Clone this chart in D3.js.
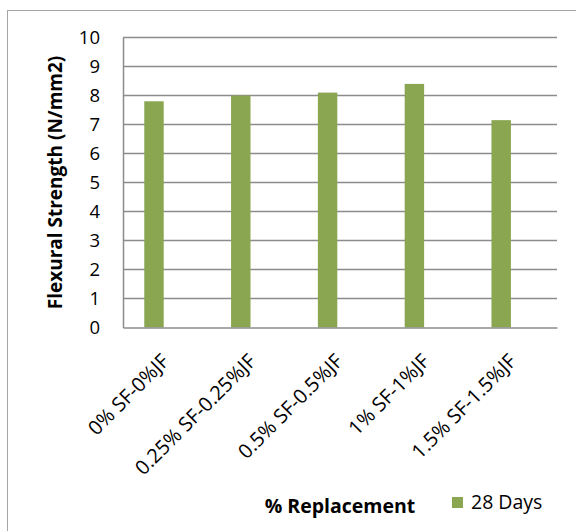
<!DOCTYPE html>
<html>
<head>
<meta charset="utf-8">
<script src="https://cdn.jsdelivr.net/npm/d3@7"></script>
<style>
  body { margin: 0; background: #fff; }
  svg { display: block; }
  text { font-family: "Open Sans", sans-serif; fill: #000; }
</style>
</head>
<body>
<div id="chart"></div>
<script>
// values
var categories = ["0% SF-0%JF", "0.25% SF-0.25%JF", "0.5% SF-0.5%JF", "1% SF-1%JF", "1.5% SF-1.5%JF"];
var days28 = [7.8, 8.0, 8.1, 8.4, 7.15];
var yTicks = [0, 1, 2, 3, 4, 5, 6, 7, 8, 9, 10];
var seriesName = "28 Days";

var width = 576, height = 531;
// note: "top" is taken by window.top, so plot edges get their own names
var plotLeft = 123, plotRight = 557, plotTop = 37.5, plotBottom = 327.5;
var green = "#8ba650";
var grid = "#8c8c8c";

var svg = d3.select("#chart").append("svg")
    .attr("width", width)
    .attr("height", height);

// chart frame (runs off the page on the right and bottom)
svg.append("rect")
    .attr("x", 7.5).attr("y", 10.5)
    .attr("width", 600).attr("height", 600)
    .attr("fill", "none")
    .attr("stroke", "#a6a6a6");

var x = d3.scaleBand().domain(categories).range([plotLeft, plotRight]);
var y = d3.scaleLinear().domain([0, 10]).range([plotBottom, plotTop]);

// gridlines
svg.append("g")
    .selectAll("line")
    .data(yTicks.filter(function(d){ return d > 0; }))
    .enter().append("line")
    .attr("x1", plotLeft).attr("x2", plotRight)
    .attr("y1", function(d){ return y(d); })
    .attr("y2", function(d){ return y(d); })
    .attr("stroke", grid)
    .attr("stroke-width", 1.5);

// bars
svg.append("g")
    .selectAll("rect")
    .data(days28)
    .enter().append("rect")
    .attr("x", function(d, i){ return x(categories[i]) + x.bandwidth() * 0.245; })
    .attr("width", x.bandwidth() * 0.224)
    .attr("y", function(d){ return y(d); })
    .attr("height", function(d){ return y(0) - y(d); })
    .attr("fill", green);

// y axis
var yAxis = svg.append("g")
    .attr("transform", "translate(" + plotLeft + ",0)")
    .call(d3.axisLeft(y).tickValues(yTicks).tickSize(0).tickPadding(23));
yAxis.select(".domain").attr("stroke", grid).attr("stroke-width", 1.5);
yAxis.selectAll("text")
    .style("font-family", "Open Sans")
    .style("font-size", "18.5px")
    .attr("fill", "#000");

// x axis
var xAxis = svg.append("g")
    .attr("transform", "translate(0," + plotBottom + ")")
    .call(d3.axisBottom(x).tickSize(0).tickFormat(""));
xAxis.select(".domain").attr("stroke", grid).attr("stroke-width", 1.5);

svg.append("g")
    .selectAll("text")
    .data(categories)
    .enter().append("text")
    .attr("transform", function(d){
        return "translate(" + (x(d) + x.bandwidth() / 2 + 4) + "," + (plotBottom + 35) + ") rotate(-45)";
    })
    .attr("text-anchor", "end")
    .style("font-size", "20px")
    .text(function(d){ return d; });

// axis titles
svg.append("text")
    .attr("transform", "translate(62," + ((plotTop + plotBottom) / 2) + ") rotate(-90)")
    .attr("text-anchor", "middle")
    .style("font-size", "19px")
    .style("font-weight", "bold")
    .text("Flexural  Strength (N/mm2)");

svg.append("text")
    .attr("x", (plotLeft + plotRight) / 2)
    .attr("y", 513)
    .attr("text-anchor", "middle")
    .style("font-size", "19.5px")
    .style("font-weight", "bold")
    .text("% Replacement");

// legend
var legend = svg.append("g").attr("transform", "translate(452,497)");
legend.append("rect")
    .attr("width", 11).attr("height", 11)
    .attr("fill", green);
legend.append("text")
    .attr("x", 19).attr("y", 11.5)
    .style("font-size", "19.5px")
    .text(seriesName);
</script>
</body>
</html>
